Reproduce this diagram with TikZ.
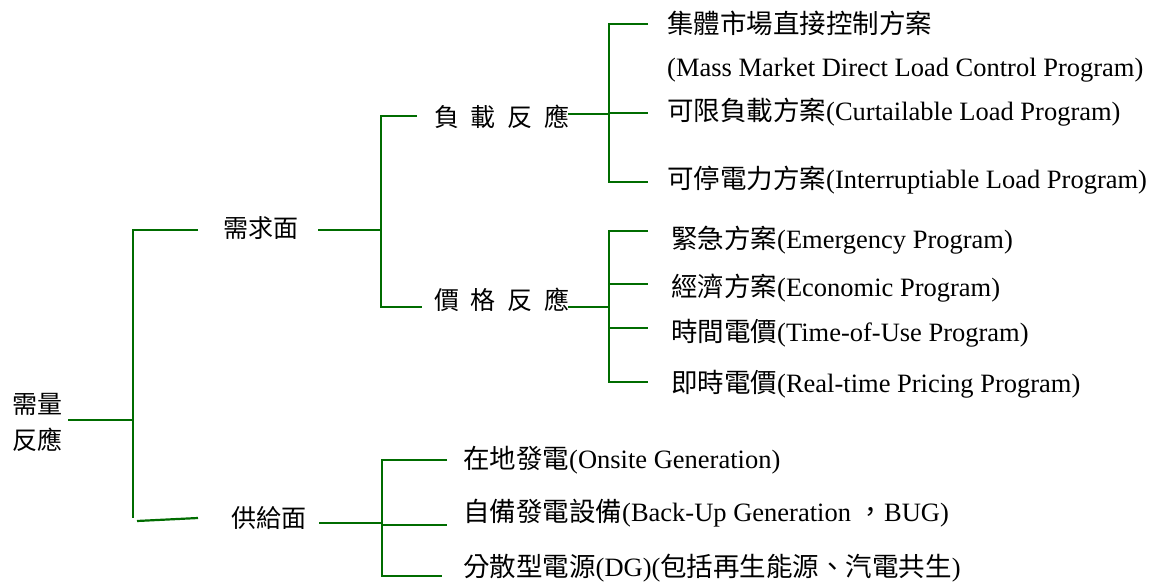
\documentclass[tikz,border=0pt]{standalone}
\usepackage{fontspec}
\setmainfont{Liberation Serif}
\newfontfamily\cjk{Noto Sans CJK TC}
\definecolor{lg}{RGB}{0,108,0}
\begin{document}
\begin{tikzpicture}[x=1pt,y=-1pt,
  conn/.style={draw=lg, line width=2.2pt},
  item/.style={anchor=base west, inner sep=0pt, font=\fontsize{26.5}{30}\selectfont},
  lab/.style={anchor=base west, inner sep=0pt, font=\cjk\fontsize{25}{36}\selectfont}]
\useasboundingbox (0,0) rectangle (1150,583);

% labels
\node[lab, align=left] (root) at (12,449) {需量\\反應};
\node[lab] (dem) at (223,237) {需求面};
\node[lab] (sup) at (231,527) {供給面};
\node[lab] (load) at (434,126) {負\hspace{11.7pt}載\hspace{11.7pt}反\hspace{11.7pt}應};
\node[lab] (price) at (434,309) {價\hspace{11.7pt}格\hspace{11.7pt}反\hspace{11.7pt}應};

% items
\node[item] (a1) at (667,34) {\cjk 集體市場直接控制方案};
\node[item] (a1e) at (667,77) {(Mass Market Direct Load Control Program)};
\node[item] (a2) at (667,121) {{\cjk 可限負載方案}(Curtailable Load Program)};
\node[item] (a3) at (667,188) {{\cjk 可停電力方案}(Interruptiable Load Program)};
\node[item] (b1) at (671,248) {{\cjk 緊急方案}(Emergency Program)};
\node[item] (b2) at (671,296) {{\cjk 經濟方案}(Economic Program)};
\node[item] (b3) at (671,341) {{\cjk 時間電價}(Time-of-Use Program)};
\node[item] (b4) at (671,392) {{\cjk 即時電價}(Real-time Pricing Program)};
\node[item] (c1) at (463,468) {{\cjk 在地發電}(Onsite Generation)};
\node[item] (c2) at (463,521) {{\cjk 自備發電設備}(Back-Up Generation {\cjk ，}BUG)};
\node[item] (c3) at (463,576) {{\cjk 分散型電源}(DG)({\cjk 包括再生能源、汽電共生})};

% coordinates
\coordinate (r0) at (68,420);
\coordinate (j1) at (133,420);
\coordinate (j1t) at (133,230);
\coordinate (j1b) at (133,518);
\coordinate (demL) at (198,230);
\coordinate (supS) at (137,521);
\coordinate (supL) at (198,518);

\coordinate (demR) at (318,230);
\coordinate (j2) at (381,230);
\coordinate (j2t) at (381,116);
\coordinate (j2b) at (381,307);
\coordinate (loadL) at (417,116);
\coordinate (priceL) at (422,307);

\coordinate (loadR) at (568,114);
\coordinate (j3) at (609,114);
\coordinate (j3t) at (609,24);
\coordinate (j3m) at (609,113);
\coordinate (j3b) at (609,182);
\coordinate (a1L) at (648,24);
\coordinate (a2L) at (648,113);
\coordinate (a3L) at (648,182);

\coordinate (priceR) at (568,307);
\coordinate (j4) at (609,307);
\coordinate (j4t) at (609,231);
\coordinate (j4a) at (609,284);
\coordinate (j4c) at (609,328);
\coordinate (j4b) at (609,382);
\coordinate (b1L) at (648,231);
\coordinate (b2L) at (648,284);
\coordinate (b3L) at (648,328);
\coordinate (b4L) at (648,382);

\coordinate (supR) at (319,523);
\coordinate (j5) at (382,523);
\coordinate (j5t) at (382,460);
\coordinate (j5m) at (382,525);
\coordinate (j5b) at (382,576);
\coordinate (c1L) at (447,460);
\coordinate (c2L) at (447,525);
\coordinate (c3L) at (442,576);

% connectors
\draw[conn] (r0) -- (j1);
\draw[conn] (demL) -- (j1t) -- (j1b);
\draw[conn] (supS) -- (supL);

\draw[conn] (demR) -- (j2);
\draw[conn] (loadL) -- (j2t) -- (j2b) -- (priceL);

\draw[conn] (loadR) -- (j3);
\draw[conn] (a1L) -- (j3t) -- (j3b) -- (a3L);
\draw[conn] (j3m) -- (a2L);

\draw[conn] (priceR) -- (j4);
\draw[conn] (b1L) -- (j4t) -- (j4b) -- (b4L);
\draw[conn] (j4a) -- (b2L);
\draw[conn] (j4c) -- (b3L);

\draw[conn] (supR) -- (j5);
\draw[conn] (c1L) -- (j5t) -- (j5b) -- (c3L);
\draw[conn] (j5m) -- (c2L);
\end{tikzpicture}
\end{document}
